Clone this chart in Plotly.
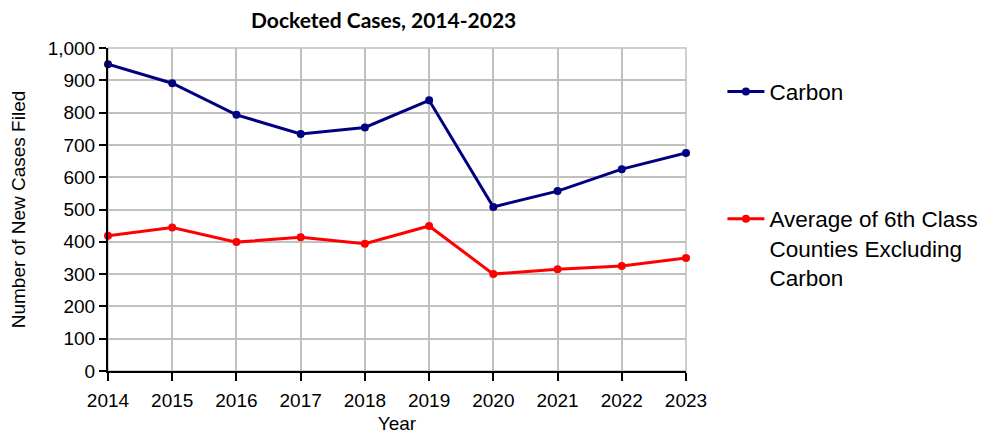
import plotly.graph_objects as go

years = [2014, 2015, 2016, 2017, 2018, 2019, 2020, 2021, 2022, 2023]
carbon = [950, 891, 793, 734, 754, 838, 508, 557, 625, 675]
avg_6th = [419, 444, 399, 414, 394, 449, 300, 315, 325, 350]
series_names = ["Carbon", "Average of 6th Class<br>Counties Excluding<br>Carbon"]
y_ticks = [0, 100, 200, 300, 400, 500, 600, 700, 800, 900, 1000]
y_tick_text = ["0", "100", "200", "300", "400", "500", "600", "700", "800", "900", "1,000"]
chart_title = "Docketed Cases, 2014-2023"

fig = go.Figure()
fig.add_trace(go.Scatter(x=years, y=carbon, name=series_names[0], mode="lines+markers",
                         line=dict(color="#000080", width=3), marker=dict(size=8, color="#000080"),
                         cliponaxis=False, legendgroup="a"))
fig.add_trace(go.Scatter(x=years, y=avg_6th, name=series_names[1], mode="lines+markers",
                         line=dict(color="#ff0000", width=3), marker=dict(size=8, color="#ff0000"),
                         cliponaxis=False, legendgroup="b"))

fig.update_layout(
    width=979, height=426,
    margin=dict(l=100, r=301, t=40, b=63, autoexpand=False),
    paper_bgcolor="white", plot_bgcolor="white",
    font=dict(family="Liberation Sans, Arial, sans-serif", size=19, color="#000000"),
    annotations=[dict(text="<b>" + chart_title + "</b>", xref="paper", yref="paper",
                      x=0.4775, y=1.089, xanchor="center", yanchor="middle", showarrow=False,
                      font=dict(family="Lato, sans-serif", size=21, color="#000000"))],
    legend=dict(x=1.063, xanchor="left", y=0.931, yanchor="top", font=dict(size=22.5),
                tracegroupgap=95, bgcolor="rgba(0,0,0,0)", valign="top", itemwidth=37),
    xaxis=dict(range=[2014, 2023], tickmode="array", tickvals=years, ticktext=[str(y) for y in years],
               showgrid=True, gridcolor="#c0c0c0", gridwidth=1.5,
               showline=True, linecolor="#000000", linewidth=2, mirror=False,
               ticks="outside", ticklen=8, tickcolor="#000000", tickwidth=1.5,
               ticklabelstandoff=3,
               title=dict(text="Year", standoff=8, font=dict(size=19)), zeroline=False),
    yaxis=dict(range=[0, 1000], tickmode="array", tickvals=y_ticks, ticktext=y_tick_text,
               showgrid=True, gridcolor="#c0c0c0", gridwidth=1.5,
               showline=True, linecolor="#000000", linewidth=2,
               ticks="outside", ticklen=7, tickcolor="#000000", tickwidth=1.5,
               title=dict(text="Number of New Cases Filed", standoff=17, font=dict(size=19)), zeroline=False),
)
fig.update_layout(shapes=[dict(type="rect", xref="paper", yref="paper", x0=0, y0=0, x1=1, y1=1,
                               line=dict(color="#c0c0c0", width=1.5), layer="below")])

fig.write_html("out.html")
